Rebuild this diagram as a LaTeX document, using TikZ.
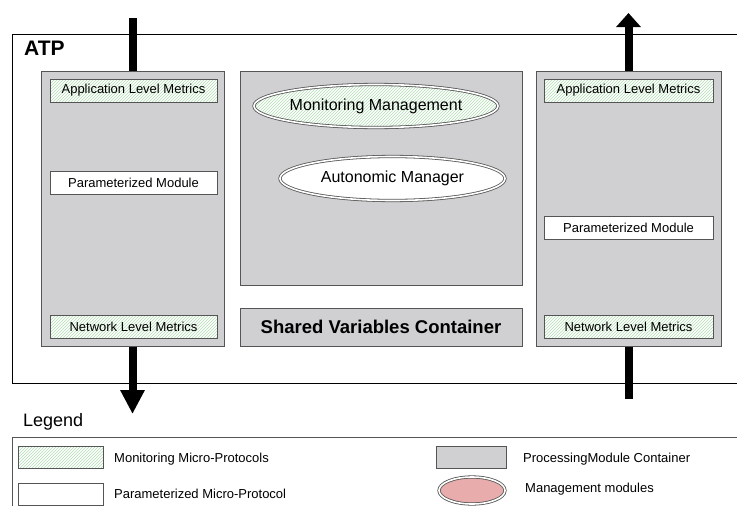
\documentclass[tikz,border=0pt]{standalone}
\usepackage{fontspec}
\setmainfont{Liberation Sans}
\usetikzlibrary{arrows.meta,positioning,shapes.geometric,patterns}
\definecolor{boxgray}{RGB}{208,208,210}
\definecolor{edgegray}{RGB}{85,85,85}
\definecolor{hatchgreen}{RGB}{180,222,180}
\definecolor{mgmtpink}{RGB}{232,172,172}
\newcommand{\atpfont}[1]{\fontsize{#1}{#1}\selectfont}

\begin{document}
\begin{tikzpicture}[
    x=1pt, y=-1pt,
    nosep/.style={inner sep=0},
    cont/.style={rectangle, nosep, draw=edgegray, fill=boxgray, line width=1pt},
    hatched/.style={preaction={fill=white}, pattern=north east lines, pattern color=hatchgreen},
    metric/.style={rectangle, nosep, draw=edgegray, line width=0.9pt, hatched,
        minimum height=23pt, font=\atpfont{13}},
    param/.style={rectangle, nosep, draw=edgegray, line width=0.9pt, fill=white,
        minimum height=23pt, font=\atpfont{13}},
    mgmt/.style={ellipse, nosep, draw=edgegray, line width=0.8pt, double=white,
        double distance=1.6pt, font=\atpfont{16}},
    legtext/.style={nosep, anchor=west, font=\atpfont{13}},
    flow/.style={line width=8pt, black}]
\useasboundingbox (0,0) rectangle (737,506);

% outer frames
\draw[black, line width=0.8pt] (12,34) rectangle (760,383);
\draw[edgegray, line width=0.8pt] (12,437) rectangle (760,530);
\node[nosep, anchor=base west, font=\bfseries\atpfont{21}] (atp) at (24,55) {ATP};
\node[nosep, anchor=base west, font=\atpfont{18}] (legend) at (23,426) {Legend};

% containers
\node[cont, minimum width=183pt, minimum height=275pt] (lcont) at (132.5,208.5) {};
\node[cont, minimum width=282pt, minimum height=214pt] (mcont) at (381,178) {};
\node[cont, minimum width=282pt, minimum height=38pt, font=\bfseries\atpfont{18.5}] (svc) at (381,327) {Shared Variables Container};
\node[cont, minimum width=185pt, minimum height=275pt] (rcont) at (628.5,208.5) {};

% left modules
\node[metric, minimum width=167pt] (lalm) at (133.5,90.5) {Application Level Metrics};
\node[param,  minimum width=167pt] (lpm)  at (133.5,182.5) {Parameterized Module};
\node[metric, minimum width=167pt] (lnlm) at (133.5,327) {Network Level Metrics};

% right modules
\node[metric, minimum width=169pt] (ralm) at (628.5,90.5) {Application Level Metrics};
\node[param,  minimum width=169pt] (rpm)  at (628.5,228) {Parameterized Module};
\node[metric, minimum width=169pt] (rnlm) at (628.5,327) {Network Level Metrics};

% management
\node[mgmt, hatched, minimum width=227pt, minimum height=43pt] (monmgr) at (376,106) {Monitoring Management};
\node[mgmt, fill=white, minimum width=225pt, minimum height=44pt] (automgr) at (392.5,178.5) {Autonomic Manager};

% flows
\coordinate (lin)  at (132.5,18);
\coordinate (lout) at (132.5,414);
\coordinate (rin)  at (628.5,399);
\coordinate (rout) at (628.5,13);
\draw[flow] (lin) -- (lcont.north);
\draw[flow, -{Triangle[width=23pt,length=24pt]}] (lcont.south) -- (lout);
\draw[flow] (rin) -- (rcont.south);
\draw[flow, -{Triangle[width=24pt,length=14pt]}] (rcont.north) -- (rout);

% legend
\node[rectangle, nosep, draw=edgegray, line width=0.9pt, hatched, minimum width=85pt, minimum height=22pt] (legmon) at (60.5,457) {};
\node[rectangle, nosep, draw=edgegray, line width=0.9pt, fill=white, minimum width=85pt, minimum height=22pt] (legpar) at (60.5,494) {};
\node[cont, minimum width=70pt, minimum height=22pt] (legcont) at (471,457) {};
\node[mgmt, fill=mgmtpink, minimum width=66pt, minimum height=27pt] (legmgmt) at (472,490.5) {};
\node[legtext] (legmontext) at (114,459) {Monitoring Micro-Protocols};
\node[legtext] (legpartext) at (114,494) {Parameterized Micro-Protocol};
\node[legtext] (legconttext) at (523,459) {ProcessingModule Container};
\node[legtext] (legmgmttext) at (525,489) {Management modules};

\end{tikzpicture}
\end{document}
